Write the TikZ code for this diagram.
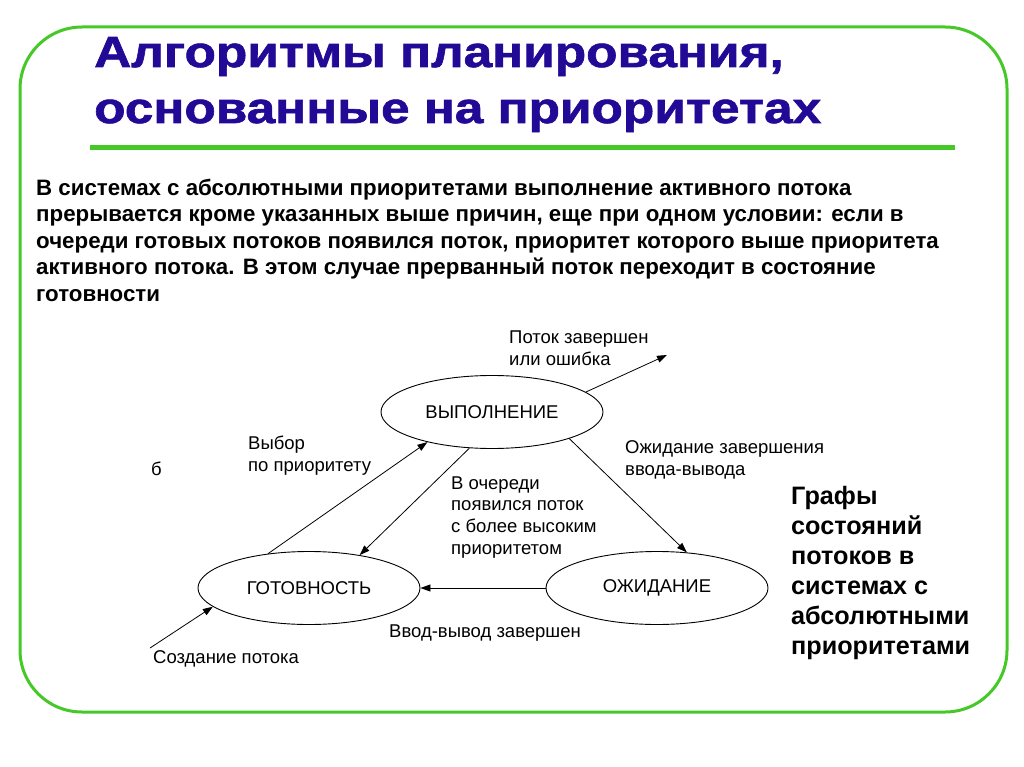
\documentclass[tikz,border=0pt]{standalone}
\usepackage{fontspec}
\setmainfont{Liberation Sans}
\newfontfamily\titlefont[FakeStretch=1.18,FakeBold=1.5]{Liberation Sans Bold}
\usetikzlibrary{arrows.meta,shapes.geometric}
\definecolor{framegreen}{RGB}{70,200,40}
\definecolor{titleblue}{RGB}{34,10,150}
\newcommand{\diagfont}{\fontsize{18.5}{22.5}\selectfont}
\begin{document}
\begin{tikzpicture}[x=1pt,y=-1pt,
  state/.style={draw, ellipse, minimum width=222pt, minimum height=73pt, inner sep=0pt, line width=0.9pt, font=\diagfont},
  arr/.style={-{Triangle[length=10pt,width=7pt]}, line width=0.8pt},
  lbl/.style={anchor=base west, inner sep=0pt, align=left, font=\diagfont},
  lblq/.style={anchor=base west, inner sep=0pt, align=left, font=\fontsize{18.5}{21.8}\selectfont}]
\useasboundingbox (0,0) rectangle (1024,767);
\fill[white] (0,0) rectangle (1024,767);
\draw[framegreen, line width=3pt, rounded corners=62pt] (20,27) rectangle (1007,712);
\draw[framegreen, line width=5pt] (90,148) -- (955,148);
% base anchor of a multi-line node = baseline of its last line
\node[anchor=base west, inner sep=0pt, align=left, text=titleblue, font=\titlefont\fontsize{43.5}{56}\selectfont] (title) at (94,123) {Алгоритмы планирования,\\основанные на приоритетах};
\node[anchor=base west, inner sep=0pt, align=left, font=\bfseries\fontsize{22.3}{26.6}\selectfont] (body) at (36,301.4) {В системах с абсолютными приоритетами выполнение активного потока\\прерывается кроме указанных выше причин, еще при одном условии: если в\\очереди готовых потоков появился поток, приоритет которого выше приоритета\\активного потока. В этом случае прерванный поток переходит в состояние\\готовности};
\node[state] (vyp) at (492,412) {ВЫПОЛНЕНИЕ};
\node[state] (got) at (309,588) {ГОТОВНОСТЬ};
\node[state] (ozh) at (657,588) {ОЖИДАНИЕ};
\coordinate (endout) at (667,355);
\coordinate (startcr) at (150,648);
\draw[arr] (vyp.12) -- (endout);
\draw[arr] (got.140) -- (vyp.205);
\draw[arr] (vyp.238) -- (got.33);
\draw[arr] (vyp.341) -- (ozh.50);
\draw[arr] (ozh.west) -- (got.east);
\draw[arr] (startcr) -- (got.191);
\node[lbl] (l1) at (509,365.5) {Поток завершен\\или ошибка};
\node[lbl] (l2) at (248,471.5) {Выбор\\по приоритету};
\node[lblq] (l3) at (451,554.4) {В очереди\\появился поток\\с более высоким\\приоритетом};
\node[lbl] (l4) at (625,475.5) {Ожидание завершения\\ввода-вывода};
\node[lbl] (l5) at (389,637) {Ввод-вывод завершен};
\node[lbl] (l6) at (153,663) {Создание потока};
\node[lbl] (l7) at (151,475) {б};
\node[anchor=base west, inner sep=0pt, align=left, font=\bfseries\fontsize{25.2}{30}\selectfont] (side) at (791,654) {Графы\\состояний\\потоков в\\системах с\\абсолютными\\приоритетами};
\end{tikzpicture}
\end{document}
